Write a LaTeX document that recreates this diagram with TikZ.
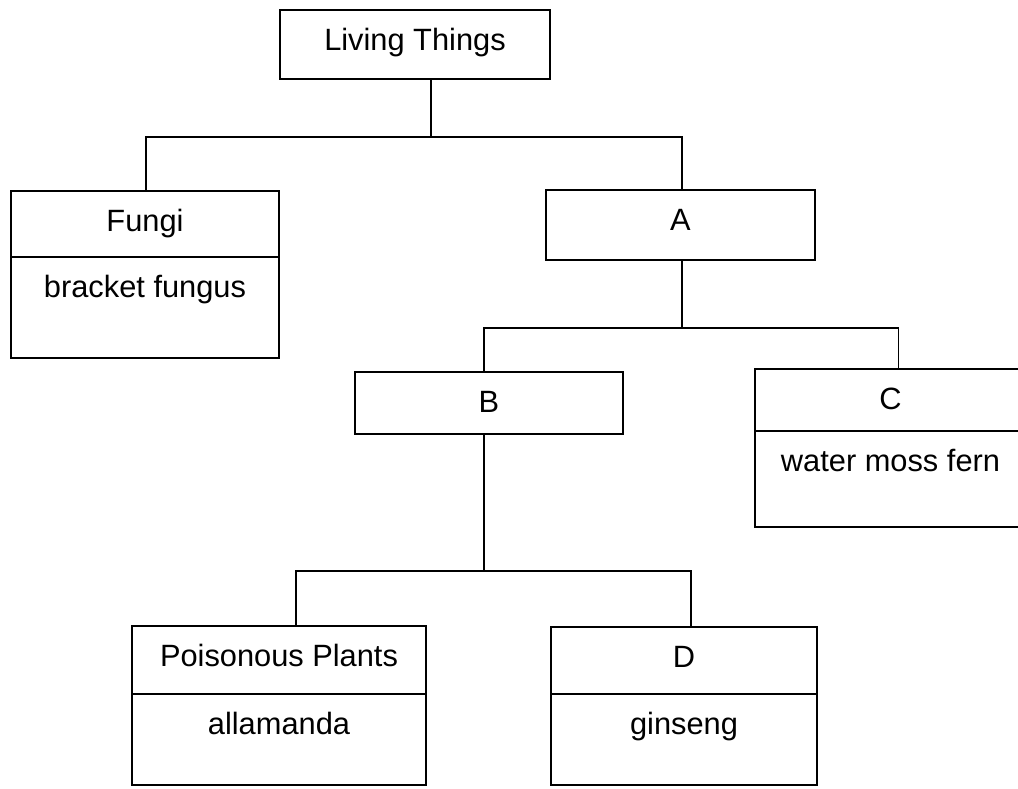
\documentclass[tikz,border=0pt]{standalone}
\usepackage{fontspec}
\setmainfont{Liberation Sans}
\begin{document}
\begin{tikzpicture}[x=1pt,y=-1pt,
  box/.style={draw, line width=1.8pt, inner xsep=0pt, inner ysep=0pt, outer sep=0pt, text height=40pt,
    font=\fontsize{30.8}{36}\selectfont, anchor=north west},
  body/.style={box, anchor=north},
  conn/.style={line width=1.8pt}]
\useasboundingbox (0,0) rectangle (1018,788);
\clip (0,0) rectangle (1018,788);
% boxes
\node[box, minimum width=270pt, text depth=29pt] (lt) at (280,10) {Living Things};
\node[box, minimum width=268pt, text depth=26pt] (fungi) at (11,191) {Fungi};
\node[body, minimum width=268pt, text depth=61pt] (fungib) at (fungi.south) {bracket fungus};
\node[box, minimum width=269pt, text depth=30pt] (a) at (546,190) {A};
\node[box, minimum width=268pt, text depth=22pt] (b) at (355,372) {B};
\node[box, minimum width=271pt, text depth=22pt] (c) at (755,369) {C};
\node[body, minimum width=271pt, text depth=56pt] (cb) at (c.south) {water moss fern};
\node[box, minimum width=294pt, text depth=28pt] (p) at (132,626) {Poisonous Plants};
\node[body, minimum width=294pt, text depth=51pt] (pb) at (p.south) {allamanda};
\node[box, minimum width=266pt, text depth=27pt] (d) at (551,627) {D};
\node[body, minimum width=266pt, text depth=51pt] (db) at (d.south) {ginseng};
% connectors
\coordinate (bus1) at (0,137);
\coordinate (bus2) at (0,328);
\coordinate (bus3) at (0,571);
\coordinate (ltd) at ([xshift=16pt]lt.south);
\coordinate (ft) at ([xshift=1pt]fungi.north);
\coordinate (at) at ([xshift=1.5pt]a.north);
\coordinate (ad) at ([xshift=1.5pt]a.south);
\coordinate (bt) at ([xshift=-5pt]b.north);
\coordinate (ct) at ([xshift=8pt]c.north);
\coordinate (bd) at ([xshift=-5pt]b.south);
\coordinate (pt) at ([xshift=17pt]p.north);
\coordinate (dt) at ([xshift=7pt]d.north);
\draw[conn] (ltd) -- (ltd |- bus1);
\draw[conn] (ft) -- (ft |- bus1) -- (at |- bus1) -- (at);
\draw[conn] (ad) -- (ad |- bus2);
\draw[conn] (bt) -- (bt |- bus2) -- (ct |- bus2) -- (ct);
\draw[conn] (bd) -- (bd |- bus3);
\draw[conn] (pt) -- (pt |- bus3) -- (dt |- bus3) -- (dt);
\end{tikzpicture}
\end{document}
